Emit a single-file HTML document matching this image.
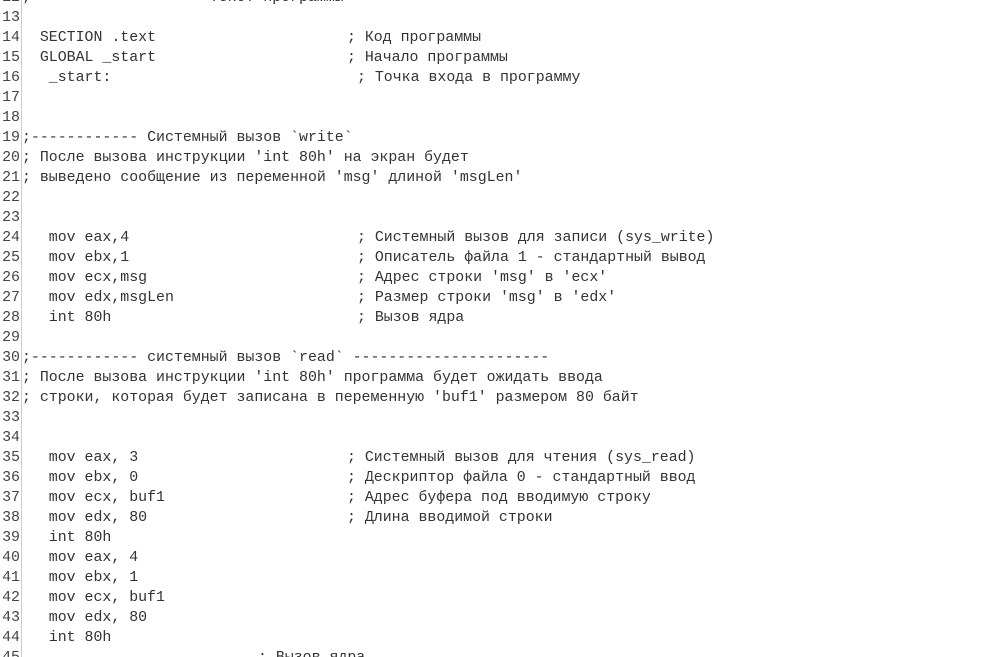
<!DOCTYPE html>
<html><head><meta charset="utf-8"><style>
html,body{margin:0;padding:0;background:#fff;width:986px;height:657px;overflow:hidden;position:relative}
.g{position:absolute;left:0;top:0;width:21px;height:657px;border-right:1px solid #ccc;background:#fff}
.l{position:absolute;height:20px;line-height:20px;font-family:"Liberation Mono","DejaVu Sans Mono",monospace;font-size:14.9px;color:#333;white-space:pre}
.n{left:0;width:20px;text-align:right;color:#444}
</style></head><body>
<div class="g"></div>
<div id="c"></div>
<script>
var L=[
[12,";                    Текст программы"],
[13,""],
[14,"  SECTION .text",347,"; Код программы"],
[15,"  GLOBAL _start",347,"; Начало программы"],
[16,"   _start:",357,"; Точка входа в программу"],
[17,""],[18,""],
[19,";------------ Системный вызов `write`"],
[20,"; После вызова инструкции 'int 80h' на экран будет"],
[21,"; выведено сообщение из переменной 'msg' длиной 'msgLen'"],
[22,""],[23,""],
[24,"   mov eax,4",357,"; Системный вызов для записи (sys_write)"],
[25,"   mov ebx,1",357,"; Описатель файла 1 - стандартный вывод"],
[26,"   mov ecx,msg",357,"; Адрес строки 'msg' в 'ecx'"],
[27,"   mov edx,msgLen",357,"; Размер строки 'msg' в 'edx'"],
[28,"   int 80h",357,"; Вызов ядра"],
[29,""],
[30,";------------ системный вызов `read` ----------------------"],
[31,"; После вызова инструкции 'int 80h' программа будет ожидать ввода"],
[32,"; строки, которая будет записана в переменную 'buf1' размером 80 байт"],
[33,""],[34,""],
[35,"   mov eax, 3",347,"; Системный вызов для чтения (sys_read)"],
[36,"   mov ebx, 0",347,"; Дескриптор файла 0 - стандартный ввод"],
[37,"   mov ecx, buf1",347,"; Адрес буфера под вводимую строку"],
[38,"   mov edx, 80",347,"; Длина вводимой строки"],
[39,"   int 80h"],
[40,"   mov eax, 4"],
[41,"   mov ebx, 1"],
[42,"   mov ecx, buf1"],
[43,"   mov edx, 80"],
[44,"   int 80h"],
[45,"",258,"; Вызов ядра"]
];
var h="";
L.forEach(function(r){
 var t=8+(r[0]-13)*20;
 h+='<div class="l n" style="top:'+t+'px">'+r[0]+'</div>';
 h+='<div class="l" style="left:22px;top:'+t+'px">'+r[1]+'</div>';
 if(r[2])h+='<div class="l" style="left:'+r[2]+'px;top:'+t+'px">'+r[3]+'</div>';
});
document.getElementById("c").innerHTML=h;
</script>
</body></html>
